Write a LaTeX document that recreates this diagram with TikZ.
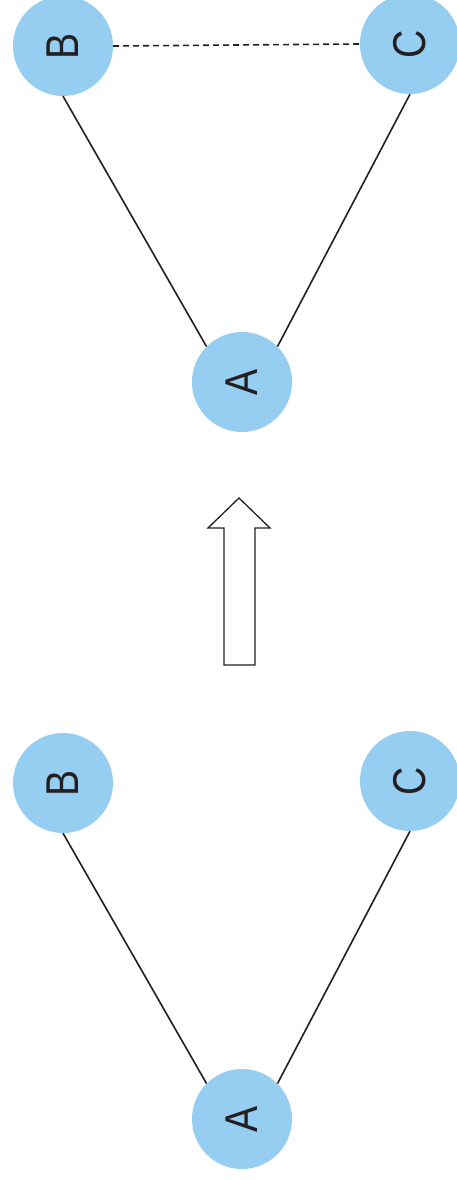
\documentclass[tikz,border=0pt]{standalone}
\usepackage{fontspec}
\setmainfont{Liberation Sans}
\definecolor{nodeblue}{RGB}{149,206,240}
\definecolor{ink}{RGB}{35,31,32}
\begin{document}
\begin{tikzpicture}[x=1pt,y=-1pt,
  vtx/.style={circle,fill=nodeblue,minimum size=100pt,inner sep=0pt,
    font=\fontsize{46}{46}\selectfont,text=ink,rotate=90},
  edge/.style={draw=ink,line width=1.6pt},
  dashedge/.style={draw=ink,line width=1.6pt,dash pattern=on 6pt off 4pt}]
\useasboundingbox (0,0) rectangle (457,1180);
% top
\node[vtx] (Bt) at (63,46) {\scalebox{0.85}[1]{B}};
\node[vtx] (Ct) at (410,44) {\scalebox{0.85}[1]{C}};
\node[vtx] (At) at (242,382) {\scalebox{0.85}[1]{A}};
\draw[edge] (Bt.west) -- (At.north east);
\draw[edge] (Ct.west) -- (At.south east);
\draw[dashedge] (Bt.south) -- (Ct.north);
% bottom
\node[vtx] (Bb) at (63,783) {\scalebox{0.85}[1]{B}};
\node[vtx] (Cb) at (410,781) {\scalebox{0.85}[1]{C}};
\node[vtx] (Ab) at (242,1119) {\scalebox{0.85}[1]{A}};
\draw[edge] (Bb.west) -- (Ab.north east);
\draw[edge] (Cb.west) -- (Ab.south east);
% block arrow
\draw[draw=ink,line width=1.3pt,fill=white]
  (239,498) -- (270,528) -- (255,528) -- (255,665) -- (224,665) -- (224,528) -- (208,528) -- cycle;
\end{tikzpicture}
\end{document}
